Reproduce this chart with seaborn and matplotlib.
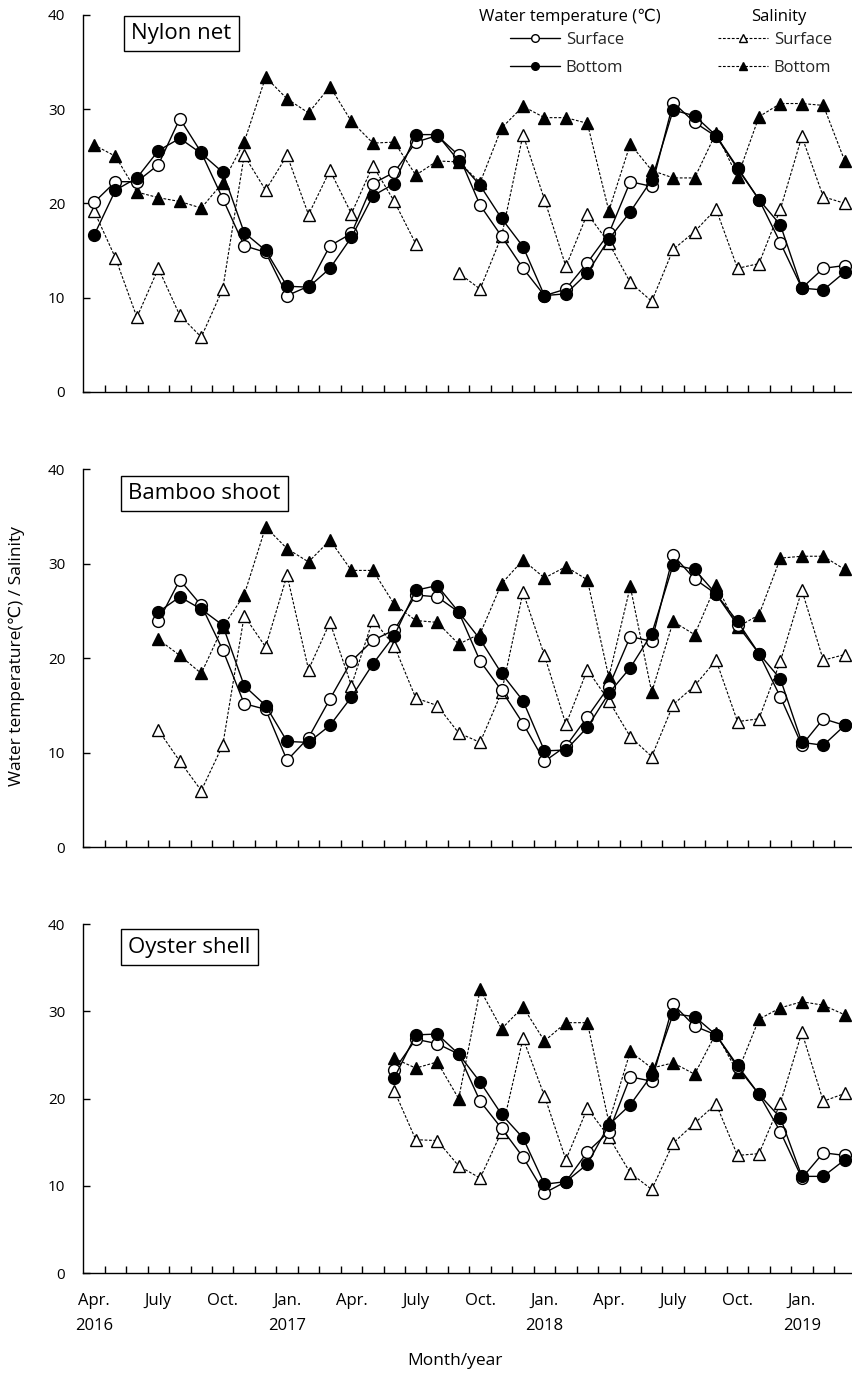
import numpy as np
import pandas as pd
import matplotlib
matplotlib.use("Agg")
import matplotlib.pyplot as plt
import seaborn as sns

nan = np.nan
months = list(range(36))  # Apr 2016 .. Mar 2019
tick_pos = [0, 3, 6, 9, 12, 15, 18, 21, 24, 27, 30, 33]
tick_labels = ["Apr.\n2016", "July", "Oct.", "Jan.\n2017", "Apr.", "July", "Oct.",
               "Jan.\n2018", "Apr.", "July", "Oct.", "Jan.\n2019"]
panel_titles = ["Nylon net", "Bamboo shoot", "Oyster shell"]

# ---- Nylon net ----
nylon_temp_surface = [20.1, 22.3, 22.3, 24.1, 29.0, 25.4, 20.5, 15.5, 14.8, 10.2, 11.2, 15.5,
                      16.8, 22.1, 23.3, 26.5, 27.2, 25.1, 19.8, 16.5, 13.1, 10.2, 10.9, 13.7,
                      16.8, 22.3, 21.8, 30.7, 28.6, 27.1, 23.7, 20.4, 15.8, 11.0, 13.1, 13.4]
nylon_temp_bottom = [16.6, 21.4, 22.7, 25.6, 26.9, 25.3, 23.3, 16.9, 15.0, 11.2, 11.1, 13.1,
                     16.4, 20.8, 22.1, 27.3, 27.3, 24.5, 21.9, 18.4, 15.4, 10.2, 10.4, 12.6,
                     16.2, 19.1, 22.5, 29.9, 29.3, 27.2, 23.8, 20.4, 17.7, 11.0, 10.8, 12.7]
nylon_sal_surface = [19.2, 14.2, 7.9, 13.1, 8.1, 5.8, 10.9, 25.1, 21.4, 25.1, 18.8, 23.5,
                     18.9, 24.0, 20.2, 15.7, nan, 12.6, 10.9, 16.5, 27.3, 20.4, 13.3, 18.9,
                     15.8, 11.6, 9.6, 15.1, 17.0, 19.4, 13.1, 13.6, 19.4, 27.1, 20.7, 20.0]
nylon_sal_bottom = [26.2, 25.0, 21.2, 20.6, 20.2, 19.5, 22.2, 26.5, 33.4, 31.1, 29.6, 32.4,
                    28.7, 26.4, 26.5, 23.0, 24.5, 24.4, 22.2, 28.0, 30.3, 29.1, 29.1, 28.5,
                    19.2, 26.3, 23.5, 22.7, 22.7, 27.5, 22.8, 29.2, 30.6, 30.6, 30.4, 24.5]

# ---- Bamboo shoot ----
bamboo_temp_surface = [nan, nan, nan, 23.9, 28.3, 25.6, 20.9, 15.2, 14.6, 9.2, 11.6, 15.7,
                       19.7, 21.9, 23.0, 26.7, 26.5, 24.9, 19.7, 16.6, 13.1, 9.1, 10.7, 13.8,
                       17.0, 22.3, 21.8, 30.9, 28.4, 26.8, 23.5, 20.5, 15.9, 10.8, 13.6, 12.9]
bamboo_temp_bottom = [nan, nan, nan, 24.9, 26.5, 25.2, 23.5, 17.1, 15.0, 11.2, 11.1, 12.9,
                      15.9, 19.4, 22.4, 27.2, 27.7, 24.9, 22.0, 18.4, 15.5, 10.2, 10.3, 12.7,
                      16.3, 19.0, 22.6, 29.9, 29.4, 26.8, 23.9, 20.5, 17.8, 11.1, 10.8, 12.9]
bamboo_sal_surface = [nan, nan, nan, 12.4, 9.1, 6.0, 10.8, 24.5, 21.2, 28.8, 18.8, 23.8,
                      17.1, 24.1, 21.3, 15.8, 15.0, 12.1, 11.1, 16.4, 27.0, 20.3, 13.0, 18.8,
                      15.5, 11.7, 9.6, 15.1, 17.1, 19.8, 13.3, 13.6, 19.7, 27.2, 19.8, 20.4]
bamboo_sal_bottom = [nan, nan, nan, 22.0, 20.3, 18.4, 23.3, 26.7, 33.9, 31.6, 30.2, 32.5,
                     29.3, 29.3, 25.7, 24.0, 23.8, 21.5, 22.6, 27.9, 30.4, 28.5, 29.7, 28.3,
                     18.0, 27.6, 16.4, 23.9, 22.5, 27.8, 23.3, 24.6, 30.6, 30.8, 30.8, 29.4]

# ---- Oyster shell ----
oyster_temp_surface = [nan] * 14 + [23.3, 26.8, 26.3, 25.1, 19.7, 16.6, 13.3, 9.2, 10.5, 13.9,
                                    16.2, 22.5, 22.0, 30.8, 28.3, 27.3, 23.6, 20.5, 16.2, 10.9,
                                    13.8, 13.5]
oyster_temp_bottom = [nan] * 14 + [22.4, 27.3, 27.4, 25.1, 21.9, 18.2, 15.5, 10.2, 10.5, 12.5,
                                   17.0, 19.3, 22.7, 29.7, 29.4, 27.3, 23.8, 20.5, 17.8, 11.1,
                                   11.1, 13.0]
oyster_sal_surface = [nan] * 14 + [20.9, 15.3, 15.2, 12.3, 10.9, 16.2, 26.9, 20.3, 13.0, 18.9,
                                   15.6, 11.5, 9.6, 14.9, 17.2, 19.4, 13.5, 13.7, 19.5, 27.6,
                                   19.7, 20.6]
oyster_sal_bottom = [nan] * 14 + [24.6, 23.5, 24.2, 20.0, 32.5, 28.0, 30.5, 26.6, 28.7, 28.7,
                                  17.3, 25.4, 23.5, 24.1, 22.8, 27.5, 23.0, 29.1, 30.4, 31.1,
                                  30.7, 29.6]

panels = [
    (nylon_temp_surface, nylon_temp_bottom, nylon_sal_surface, nylon_sal_bottom),
    (bamboo_temp_surface, bamboo_temp_bottom, bamboo_sal_surface, bamboo_sal_bottom),
    (oyster_temp_surface, oyster_temp_bottom, oyster_sal_surface, oyster_sal_bottom),
]

sns.set_theme(style="white")
plt.rcParams["font.family"] = ["Open Sans", "DejaVu Sans"]
plt.rcParams["axes.edgecolor"] = "black"
plt.rcParams["axes.linewidth"] = 1.0

W, H = 853, 1374
fig = plt.figure(figsize=(W / 100, H / 100), dpi=100)

x_left = 83.3
x_width = 36 * 21.45
geo = [(15.0, 391.7), (469.3, 847.3), (924.0, 1273.3)]
box_pos = [(0.062, 0.950), (0.058, 0.937), (0.058, 0.934)]

solid_open = dict(color="black", linewidth=1.0, linestyle="-", marker="o", markersize=8.5,
                  markerfacecolor="white", markeredgecolor="black", markeredgewidth=1.0)
solid_fill = dict(color="black", linewidth=1.0, linestyle="-", marker="o", markersize=8.5,
                  markerfacecolor="black", markeredgecolor="black", markeredgewidth=1.0)
dash_open = dict(color="black", linewidth=0.8, linestyle=(0, (2.5, 1.5)), marker="^",
                 markersize=9, markerfacecolor="white", markeredgecolor="black",
                 markeredgewidth=1.0)
dash_fill = dict(color="black", linewidth=0.8, linestyle=(0, (2.5, 1.5)), marker="^",
                 markersize=9, markerfacecolor="black", markeredgecolor="black",
                 markeredgewidth=1.0)


def draw(ax, values, style):
    y = np.asarray(values, dtype=float)
    valid = ~np.isnan(y)
    seg = np.cumsum(~valid)
    df = pd.DataFrame({"x": months, "y": y, "seg": seg})[valid]
    handle = None
    for _, d in df.groupby("seg"):
        sns.lineplot(data=d, x="x", y="y", ax=ax, estimator=None, errorbar=None,
                     legend=False, sort=False, **style)
        if handle is None:
            handle = ax.lines[-1]
    return handle


for p, (top, bot) in enumerate(geo):
    ax = fig.add_axes([x_left / W, 1 - bot / H, x_width / W, (bot - top) / H])
    ts, tb, ss, sb = panels[p]
    h_ss = draw(ax, ss, dash_open)
    h_sb = draw(ax, sb, dash_fill)
    h_ts = draw(ax, ts, solid_open)
    h_tb = draw(ax, tb, solid_fill)

    ax.set_xlim(-0.5, 35.5)
    ax.set_ylim(0, 40)
    ax.set_yticks([0, 10, 20, 30, 40])
    ax.set_xticks(tick_pos)
    ax.set_xticks(np.arange(0.5, 35.5, 1.0), minor=True)
    ax.set_xlabel("")
    ax.set_ylabel("")
    for s in ["top", "right"]:
        ax.spines[s].set_visible(False)
    ax.tick_params(axis="y", direction="in", length=5, width=1, pad=13, labelsize=11,
                   left=True, colors="black")
    ax.tick_params(axis="x", which="major", length=0, pad=14, labelsize=12, colors="black")
    ax.tick_params(axis="x", which="minor", direction="in", length=5, width=1,
                   bottom=True, colors="black")
    if p == 2:
        ax.set_xticklabels(tick_labels)
        for t in ax.get_xticklabels():
            t.set_linespacing(1.8)
    else:
        ax.set_xticklabels([])

    bx, by = box_pos[p]
    ax.text(bx, by, panel_titles[p], transform=ax.transAxes, ha="left", va="center",
            fontsize=16, color="black",
            bbox=dict(boxstyle="square,pad=0.32", facecolor="white", edgecolor="black",
                      linewidth=1.0))

    if p == 0:
        common = dict(loc="center", bbox_transform=fig.transFigure, frameon=False,
                      fontsize=12, handlelength=3.0, handletextpad=0.35,
                      labelspacing=0.75, borderpad=0, borderaxespad=0)
        leg1 = ax.legend(handles=[h_ts, h_tb], labels=["Surface", "Bottom"],
                         bbox_to_anchor=(567 / W, 1 - 54 / H), **common)
        ax.add_artist(leg1)
        leg2 = ax.legend(handles=[h_ss, h_sb], labels=["Surface", "Bottom"],
                         bbox_to_anchor=(775 / W, 1 - 54 / H), **common)
        for lg in (leg1, leg2):
            for hl in lg.legend_handles:
                hl.set_markersize(5.5)
        fig.text(570 / W, 1 - 17 / H, "Water temperature (\u2103)", ha="center", va="center",
                 fontsize=12, color="black")
        fig.text(779 / W, 1 - 17 / H, "Salinity", ha="center", va="center",
                 fontsize=12, color="black")

fig.text(17 / W, 1 - 656 / H, "Water temperature(\u2103) / Salinity", rotation=90,
         ha="center", va="center", fontsize=12.5, color="black")
fig.text(455 / W, 1 - 1361 / H, "Month/year", ha="center", va="center", fontsize=12.5,
         color="black")

fig.savefig("out.png", dpi=100)
